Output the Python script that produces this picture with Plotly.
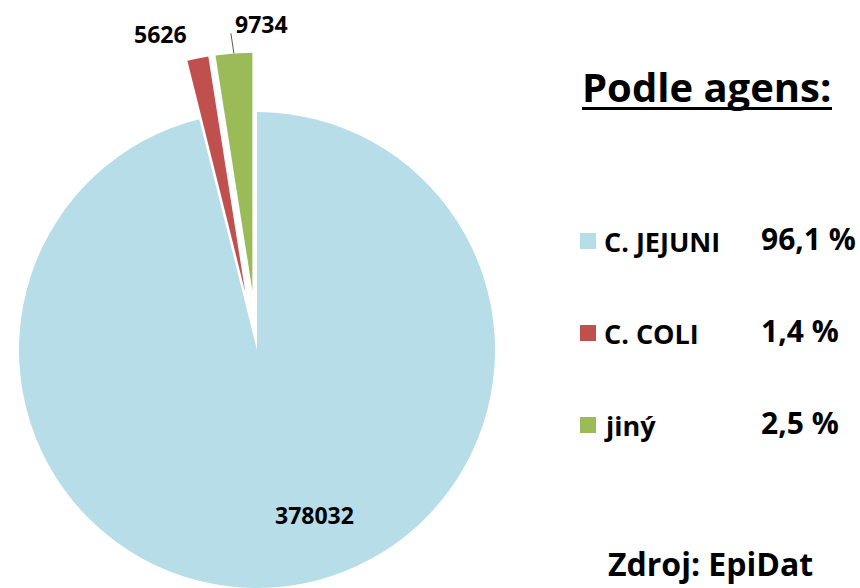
import math
import plotly.graph_objects as go

# ---- data ----
categories = ["C. JEJUNI", "C. COLI", "jiný"]
values = [378032, 5626, 9734]
colors = ["#B7DDE8", "#C0504D", "#9BBB59"]
pulls = [0.0, 0.25, 0.25]
title_text = "Podle agens:"
source_text = "Zdroj: EpiDat"

W, H = 860, 588
CX, CY, R = 257, 350, 238
FONT = "Open Sans"


def px(x):
    return x / W


def py(y):
    return 1 - y / H


total = sum(values)
fig = go.Figure()
centers = []
cum = 0
for i, (v, p) in enumerate(zip(values, pulls)):
    theta = 2 * math.pi * (cum + v / 2) / total
    cum += v
    cx = CX + R * p * math.sin(theta)
    cy = CY - R * p * math.cos(theta)
    centers.append((cx, cy, theta))
    dom_x = [max(0.0, (cx - R) / W), min(1.0, (cx + R) / W)]
    dom_y = [max(0.0, 1 - (cy + R) / H), min(1.0, 1 - (cy - R) / H)]
    cols = ["rgba(0,0,0,0)"] * len(values)
    cols[i] = colors[i]
    fig.add_trace(go.Pie(
        values=values, labels=categories, sort=False,
        direction="clockwise", rotation=0,
        marker=dict(colors=cols, line=dict(width=0)),
        textinfo="none", hoverinfo="skip", showlegend=False,
        domain=dict(x=dom_x, y=dom_y),
    ))

annotations = []
shapes = []

# data labels
label_pos = [(314, 514.5), (160, 34.5), (261.5, 24.5)]
for v, (lx, ly) in zip(values, label_pos):
    annotations.append(dict(
        x=px(lx), y=py(ly), xref="paper", yref="paper",
        text=f"{v}", showarrow=False, xanchor="center", yanchor="middle",
        font=dict(family=FONT, size=23, color="#000000", weight="bold"),
    ))

# leader line for the green slice
gcx, gcy, gth = centers[2]
sx = gcx + R * math.sin(gth)
sy = gcy - R * math.cos(gth)
shapes.append(dict(type="line", xref="paper", yref="paper",
                   x0=px(sx), y0=py(sy), x1=px(sx - 3), y1=py(sy - 20),
                   line=dict(color="#595959", width=1)))

# title
annotations.append(dict(
    x=px(580), y=py(86), xref="paper", yref="paper", text=title_text,
    showarrow=False, xanchor="left", yanchor="middle",
    font=dict(family=FONT, size=40, color="#000000", weight="bold"),
))
shapes.append(dict(type="line", xref="paper", yref="paper",
                   x0=px(582), x1=px(832), y0=py(108.5), y1=py(108.5),
                   line=dict(color="#000000", width=3)))

# custom legend
row_y = [241, 333, 425]
for cat, col, v, ry in zip(categories, colors, values, row_y):
    shapes.append(dict(type="rect", xref="paper", yref="paper",
                       x0=px(580), x1=px(596), y0=py(ry - 8), y1=py(ry + 8),
                       fillcolor=col, line=dict(width=0)))
    annotations.append(dict(
        x=px(602), y=py(ry), xref="paper", yref="paper", text=cat,
        showarrow=False, xanchor="left", yanchor="middle",
        font=dict(family=FONT, size=27, color="#000000", weight="bold"),
    ))
    pct = f"{100 * v / total:.1f}".replace(".", ",") + " %"
    annotations.append(dict(
        x=px(759), y=py(ry - 3), xref="paper", yref="paper", text=pct,
        showarrow=False, xanchor="left", yanchor="middle",
        font=dict(family=FONT, size=30, color="#000000", weight="bold"),
    ))

# source (kept fully visible at the bottom edge)
annotations.append(dict(
    x=px(710), y=py(587), xref="paper", yref="paper", text=source_text,
    showarrow=False, xanchor="center", yanchor="bottom",
    font=dict(family=FONT, size=32, color="#000000", weight="bold"),
))

fig.update_layout(
    width=W, height=H,
    margin=dict(l=0, r=0, t=0, b=0),
    paper_bgcolor="#FFFFFF", plot_bgcolor="#FFFFFF",
    annotations=annotations, shapes=shapes,
    showlegend=False,
)

fig.write_html(
    "out.html",
    config={"displayModeBar": False},
    post_script="document.body.style.margin='0';document.body.style.padding='0';",
)
